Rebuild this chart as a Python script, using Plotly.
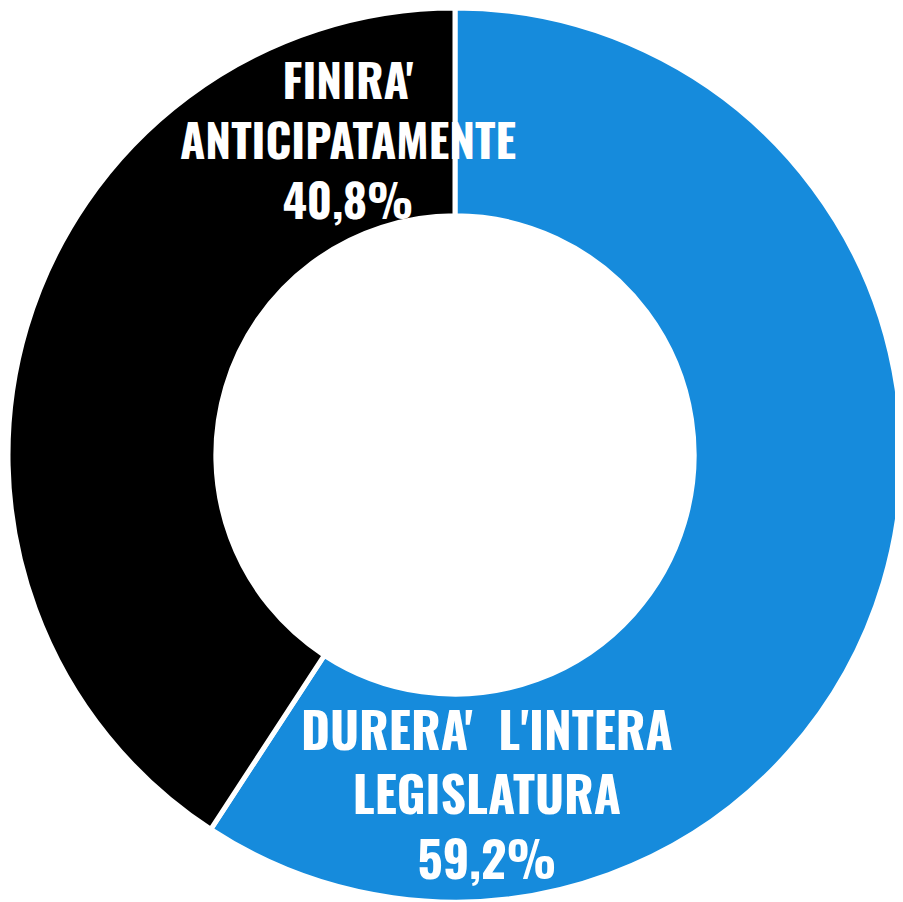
import plotly.graph_objects as go

labels = ["DURERA'\u00a0\u00a0L'INTERA<br>LEGISLATURA", "FINIRA'<br>ANTICIPATAMENTE"]
values = [59.2, 40.8]
colors = ["#168BDC", "#000000"]
label_sizes = [49.5, 46]
# label block centres in page pixels (x, y)
label_pos = [(487, 792), (348, 138)]

OFF = 8            # page offset of the figure
W, H = 894, 894

fig = go.Figure(go.Pie(
    labels=labels,
    values=values,
    hole=0.535,
    sort=False,
    direction="clockwise",
    rotation=0,
    marker=dict(colors=colors, line=dict(color="white", width=5)),
    textinfo="none",
    hoverinfo="label+percent",
    showlegend=False,
))

for lab, v, sz, (px, py) in zip(labels, values, label_sizes, label_pos):
    txt = f"{lab}<br>{v:.1f}%".replace(".", ",")
    fig.add_annotation(
        x=(px - OFF) / W, y=1 - (py - OFF) / H,
        xref="paper", yref="paper",
        text=txt, showarrow=False,
        xanchor="center", yanchor="middle", align="center",
        font=dict(family="Oswald, Roboto Condensed, sans-serif",
                  size=sz, color="white", weight="bold"),
    )

fig.update_layout(
    width=W, height=H,
    margin=dict(l=0, t=0, r=0, b=0, pad=0),
    paper_bgcolor="white", plot_bgcolor="white",
)

fig.write_html("out.html")
